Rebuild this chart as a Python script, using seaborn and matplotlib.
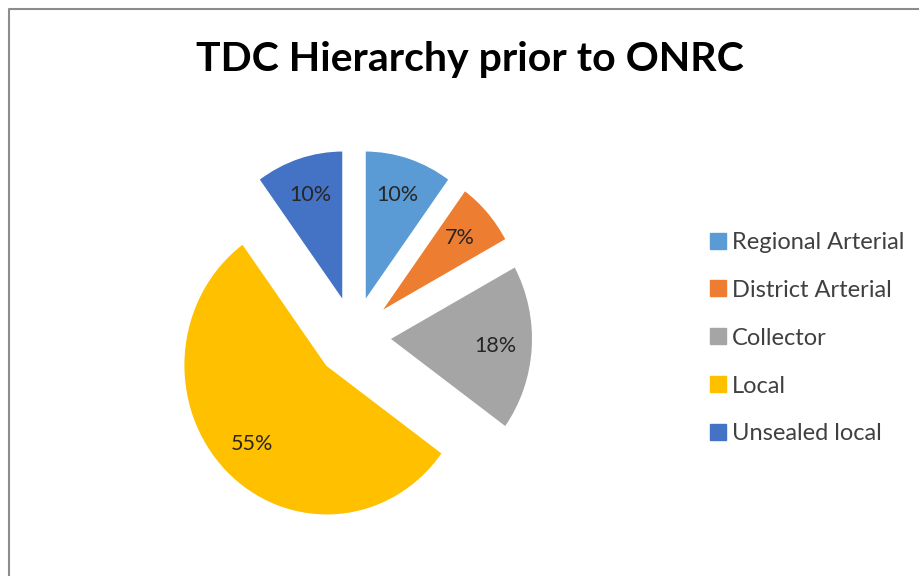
import matplotlib
matplotlib.use('Agg')
import matplotlib.pyplot as plt
from matplotlib.lines import Line2D
import seaborn as sns

# Data
categories = ['Regional Arterial', 'District Arterial', 'Collector', 'Local', 'Unsealed local']
shares = [10, 7, 18, 55, 10]
colors = ['#5b9bd5', '#ed7d31', '#a5a5a5', '#ffc000', '#4472c4']
explode = [0.25, 0.25, 0.25, 0.27, 0.25]

sns.set_theme(style='white')
plt.rcParams['font.family'] = ['Lato', 'DejaVu Sans']

fig = plt.figure(figsize=(9.2, 5.76), dpi=100)

# Pie axes (the reference is slightly squashed horizontally)
ax = fig.add_axes([139.5 / 920, 14.5 / 576, 429 / 920, 450 / 576])
wedges, texts, autotexts = ax.pie(
    shares,
    colors=colors,
    startangle=90,
    counterclock=False,
    explode=explode,
    autopct='%1.0f%%',
    pctdistance=0.74,
    textprops={'fontsize': 15.5, 'color': '#262626'},
)
ax.set_aspect('auto')
ax.set_xlim(-1.5, 1.5)
ax.set_ylim(-1.5, 1.5)
ax.axis('off')

# Title
fig.text(0.511, 0.896, 'TDC Hierarchy prior to ONRC', ha='center', va='center',
         fontsize=29.5, fontweight='bold', color='black')

# Legend with square markers
handles = [Line2D([0], [0], marker='s', linestyle='', markersize=11,
                  markerfacecolor=c, markeredgecolor=c) for c in colors]
fig.legend(handles, categories, loc='center left', bbox_to_anchor=(0.746, 0.413),
           frameon=False, fontsize=17, labelspacing=1.14, handletextpad=0.15,
           handlelength=0.9, labelcolor='#404040')

# Chart border (top and left edges visible)
fig.add_artist(Line2D([9.5 / 920, 9.5 / 920, 1.0], [0.0, 1 - 8.5 / 576, 1 - 8.5 / 576],
                      transform=fig.transFigure, color='#8c8c8c', linewidth=1.5))

fig.savefig('out.png', dpi=100, facecolor='white')
plt.close(fig)
